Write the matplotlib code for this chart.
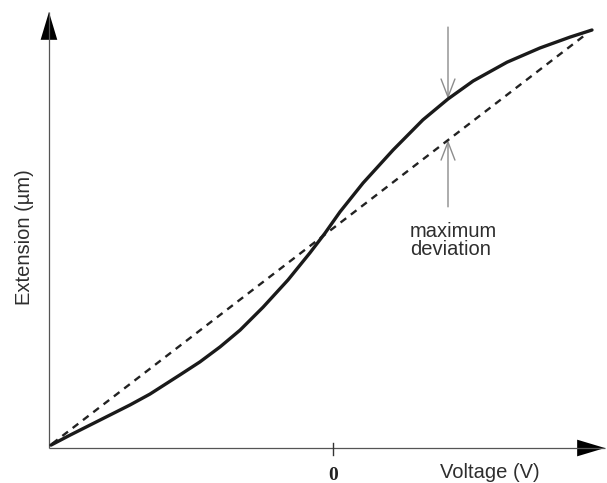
import numpy as np
import matplotlib as mpl
mpl.use('Agg')
import matplotlib.pyplot as plt
from matplotlib.patches import FancyArrowPatch

plt.rcParams['font.family'] = ['Liberation Sans', 'DejaVu Sans']

# piezo extension curve (arbitrary units, voltage 0 at the tick)
volts = [-1.089, -1.015, -0.938, -0.861, -0.784, -0.707, -0.591, -0.514, -0.436,
         -0.359, -0.270, -0.174, -0.089, -0.031, 0.027, 0.116, 0.232, 0.347,
         0.444, 0.541, 0.672, 0.799, 0.915, 1.0]
extension = [0.007, 0.031, 0.055, 0.079, 0.103, 0.129, 0.175, 0.206, 0.242,
             0.282, 0.337, 0.402, 0.467, 0.514, 0.565, 0.634, 0.713, 0.785,
             0.835, 0.878, 0.923, 0.957, 0.983, 1.0]

# ideal linear response
lin_volts = [-1.085, 0.973]
lin_ext = [0.010, 0.988]

dev_volt = 0.444
tick_labels = ['0']

fig = plt.figure(figsize=(6.07, 4.83), dpi=100)
ax = fig.add_axes([0, 0, 1, 1])
ax.set_xlim(-1.286, 1.058)
ax.set_ylim(-0.0837, 1.0718)
ax.axis('off')

x0, y0 = -1.097, 0.0
axcol = '#555555'

# axes with filled arrow heads
for start, end in [((x0, y0), (x0, 1.043)), ((x0, y0), (1.05, y0))]:
    ax.plot([start[0], end[0]], [start[1], end[1]], color=axcol, lw=0.9,
            solid_capstyle='butt')
    ax.add_patch(FancyArrowPatch(start, end,
                                 arrowstyle='-|>,head_length=20,head_width=6',
                                 mutation_scale=1, color='black', lw=0,
                                 shrinkA=0, shrinkB=0))

# zero tick
ax.plot([0, 0], [0.012, -0.017], color='#333333', lw=1.0)
ax.text(0, -0.0765, tick_labels[0], ha='center', va='baseline',
        family='Liberation Serif', fontsize=14, fontweight='bold', color='#222222')

ax.plot(lin_volts, lin_ext, color='#222222', lw=1.7, dashes=(3, 2.5))
ax.plot(volts, extension, color='#1a1a1a', lw=2.4, solid_capstyle='round',
        solid_joinstyle='round')

# maximum deviation arrows
top_e = np.interp(dev_volt, volts, extension)
bot_e = np.interp(dev_volt, lin_volts, lin_ext)
gray = '#8c8c8c'
ax.add_patch(FancyArrowPatch((dev_volt, 1.007), (dev_volt, top_e),
                             arrowstyle='->,head_length=13,head_width=5',
                             mutation_scale=1, color=gray, lw=1.0,
                             shrinkA=0, shrinkB=0))
ax.add_patch(FancyArrowPatch((dev_volt, 0.577), (dev_volt, bot_e),
                             arrowstyle='->,head_length=13,head_width=5',
                             mutation_scale=1, color=gray, lw=1.0,
                             shrinkA=0, shrinkB=0))

txtcol = '#2e2e2e'
ax.text(0.297, 0.505, 'maximum', ha='left', va='baseline', fontsize=14.5, color=txtcol)
ax.text(0.297, 0.462, 'deviation', ha='left', va='baseline', fontsize=14.5, color=txtcol)

ax.text(0.606, -0.0718, 'Voltage (V)', ha='center', va='baseline',
        fontsize=14.5, color=txtcol)
ax.text(-1.193, 0.505, 'Extension (\u00b5m)', ha='center', va='center',
        rotation=90, fontsize=14.5, color=txtcol)

fig.savefig('out.png', dpi=100)
